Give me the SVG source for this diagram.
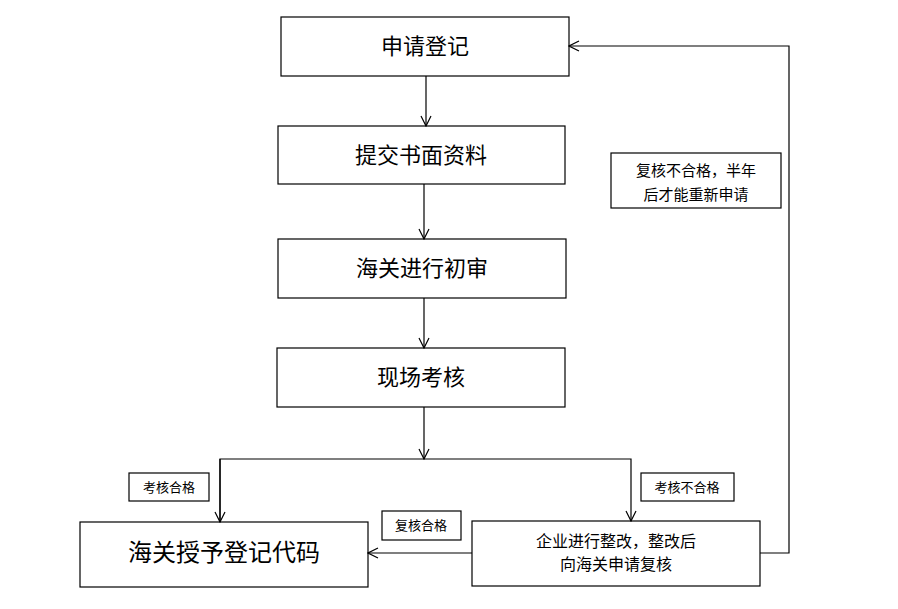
<svg xmlns="http://www.w3.org/2000/svg" width="898" height="609" viewBox="0 0 898 609">
<style>
.b{fill:#fff;stroke:#000;stroke-width:1.2}
.t{font-family:"Liberation Serif","Noto Sans CJK SC",serif;fill:#000;text-anchor:middle}
.c{fill:none;stroke:#000;stroke-width:1.2}
</style>
<defs><marker id="a" markerWidth="12" markerHeight="12" refX="11" refY="6" orient="auto" markerUnits="userSpaceOnUse"><path d="M1,1 L11,6 L1,11" fill="none" stroke="#000" stroke-width="1.2"/></marker></defs>
<rect width="898" height="609" fill="#fff"/>
<g id="n1"><rect class="b" x="281" y="17" width="288" height="59"/><text class="t" x="425" y="54" font-size="22">申请登记</text></g>
<g id="n2"><rect class="b" x="278" y="126" width="287" height="58"/><text class="t" x="421" y="163" font-size="22">提交书面资料</text></g>
<g id="n3"><rect class="b" x="278" y="239" width="288" height="59"/><text class="t" x="422" y="276" font-size="22">海关进行初审</text></g>
<g id="n4"><rect class="b" x="277" y="348" width="288" height="59"/><text class="t" x="421" y="385" font-size="22">现场考核</text></g>
<g id="n5"><rect class="b" x="80" y="522" width="288" height="65"/><text class="t" x="224" y="561" font-size="24">海关授予登记代码</text></g>
<g id="n6"><rect class="b" x="472" y="521" width="288" height="65"/><text class="t" x="616" y="547" font-size="16">企业进行整改，整改后</text><text class="t" x="616" y="570" font-size="16">向海关申请复核</text></g>
<g id="l1"><rect class="b" x="611" y="153" width="170" height="55"/><text class="t" x="696" y="176" font-size="15">复核不合格，半年</text><text class="t" x="696" y="200" font-size="15">后才能重新申请</text></g>
<g id="l2"><rect class="b" x="129" y="473" width="80" height="28"/><text class="t" x="169" y="492" font-size="13">考核合格</text></g>
<g id="l3"><rect class="b" x="641" y="473" width="93" height="28"/><text class="t" x="687" y="492" font-size="13">考核不合格</text></g>
<g id="l4"><rect class="b" x="382" y="511" width="79" height="29"/><text class="t" x="421" y="530" font-size="13">复核合格</text></g>
<g id="edges">
<path class="c" d="M426,76 V126" marker-end="url(#a)"/>
<path class="c" d="M424,184 V239" marker-end="url(#a)"/>
<path class="c" d="M424,298 V348" marker-end="url(#a)"/>
<path class="c" d="M424,407 V459" marker-end="url(#a)"/>
<path class="c" d="M220,522 V459 H631 V521" marker-start="url(#a)" marker-end="url(#a)" style="marker-start:none"/>
<path class="c" d="M220,459 V522" marker-end="url(#a)"/>
<path class="c" d="M472,553 H368" marker-end="url(#a)"/>
<path class="c" d="M760,553 H789 V46 H569" marker-end="url(#a)"/>
</g>
</svg>
